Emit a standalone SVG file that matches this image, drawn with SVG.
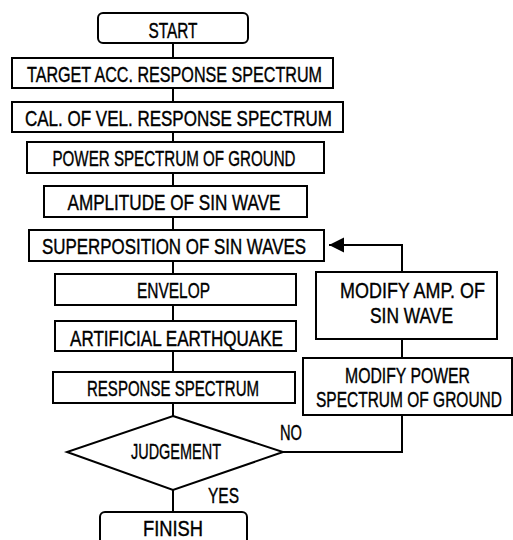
<svg xmlns="http://www.w3.org/2000/svg" width="513" height="540" viewBox="0 0 513 540">
<style>
.b{fill:#fff;stroke:#000;stroke-width:2}
.c{fill:none;stroke:#000;stroke-width:2}
text{font-family:"Liberation Sans",Arial,sans-serif;font-size:22.5px;fill:#000;stroke:#000;stroke-width:0.4;text-anchor:middle}
</style>
<defs>
<marker id="ah" markerWidth="16" markerHeight="16" refX="15" refY="8" orient="auto" markerUnits="userSpaceOnUse">
<path d="M0,0.5 L15,8 L0,15.5 Z" fill="#000"/>
</marker>
</defs>
<rect width="513" height="540" fill="#fff"/>
<g id="connectors">
<line class="c" x1="173" y1="43" x2="173" y2="58"/>
<line class="c" x1="173" y1="88" x2="173" y2="102"/>
<line class="c" x1="173" y1="132" x2="173" y2="142"/>
<line class="c" x1="173" y1="173" x2="173" y2="186"/>
<line class="c" x1="173" y1="217" x2="173" y2="230"/>
<line class="c" x1="173" y1="261" x2="173" y2="274"/>
<line class="c" x1="173" y1="305" x2="173" y2="321"/>
<line class="c" x1="173" y1="351" x2="173" y2="372"/>
<line class="c" x1="173" y1="403" x2="173" y2="416"/>
<line class="c" x1="173" y1="490" x2="173" y2="512"/>
<polyline class="c" points="283,452 402,452 402,415"/>
<line class="c" x1="402" y1="339" x2="402" y2="358"/>
<polyline class="c" points="402,272 402,245 329,245" marker-end="url(#ah)"/>
</g>
<g id="start"><rect class="b" x="98" y="13" width="150" height="30" rx="5"/><text x="173" y="38" textLength="49" lengthAdjust="spacingAndGlyphs">START</text></g>
<g id="target"><rect class="b" x="12" y="58" width="321" height="30"/><text x="174.5" y="82" textLength="295" lengthAdjust="spacingAndGlyphs">TARGET ACC. RESPONSE SPECTRUM</text></g>
<g id="cal"><rect class="b" x="12" y="102" width="331" height="30"/><text x="178.5" y="126" textLength="307" lengthAdjust="spacingAndGlyphs">CAL. OF VEL. RESPONSE SPECTRUM</text></g>
<g id="power"><rect class="b" x="27" y="142" width="297" height="31"/><text x="174" y="166" textLength="243" lengthAdjust="spacingAndGlyphs">POWER SPECTRUM OF GROUND</text></g>
<g id="amplitude"><rect class="b" x="44" y="186" width="263" height="31"/><text x="174" y="210" textLength="213" lengthAdjust="spacingAndGlyphs">AMPLITUDE OF SIN WAVE</text></g>
<g id="superposition"><rect class="b" x="29" y="230" width="295" height="31"/><text x="174" y="254" textLength="264" lengthAdjust="spacingAndGlyphs">SUPERPOSITION OF SIN WAVES</text></g>
<g id="envelop"><rect class="b" x="55" y="274" width="241" height="31"/><text x="173.5" y="298" textLength="73" lengthAdjust="spacingAndGlyphs">ENVELOP</text></g>
<g id="artificial"><rect class="b" x="55" y="321" width="241" height="30"/><text x="176.5" y="346" textLength="213" lengthAdjust="spacingAndGlyphs">ARTIFICIAL EARTHQUAKE</text></g>
<g id="response"><rect class="b" x="53" y="372" width="242" height="31"/><text x="173" y="396" textLength="172" lengthAdjust="spacingAndGlyphs">RESPONSE SPECTRUM</text></g>
<g id="judgement"><polygon class="b" points="173,416 283,452 173,490 67,452"/><text x="176" y="459" textLength="90" lengthAdjust="spacingAndGlyphs">JUDGEMENT</text></g>
<g id="finish"><rect class="b" x="100" y="512" width="147" height="40" rx="5"/><text x="173" y="536" textLength="60" lengthAdjust="spacingAndGlyphs">FINISH</text></g>
<g id="modamp"><rect class="b" x="316" y="272" width="181" height="67"/><text x="412.5" y="298" textLength="145" lengthAdjust="spacingAndGlyphs">MODIFY AMP. OF</text><text x="411.5" y="323" textLength="83" lengthAdjust="spacingAndGlyphs">SIN WAVE</text></g>
<g id="modpower"><rect class="b" x="303" y="358" width="209" height="57"/><text x="407.5" y="383" textLength="125" lengthAdjust="spacingAndGlyphs">MODIFY POWER</text><text x="409" y="407" textLength="186" lengthAdjust="spacingAndGlyphs">SPECTRUM OF GROUND</text></g>
<g id="labels"><text x="291" y="440" textLength="22" lengthAdjust="spacingAndGlyphs">NO</text><text x="223.5" y="503" textLength="31" lengthAdjust="spacingAndGlyphs">YES</text></g>
</svg>
